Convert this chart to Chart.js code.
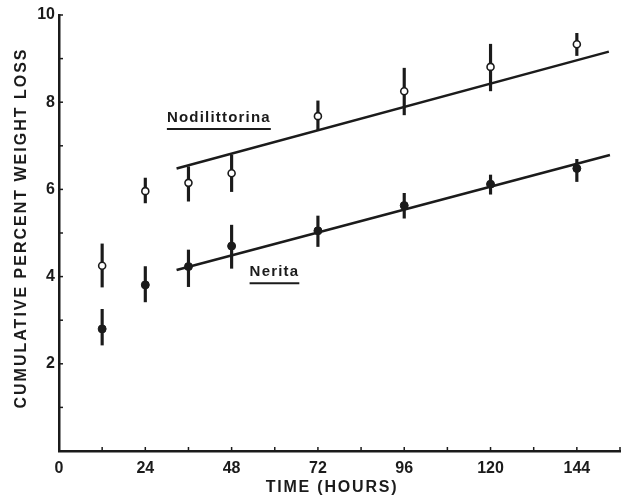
<!DOCTYPE html>
<html>
<head>
<meta charset="utf-8">
<script src="https://cdn.jsdelivr.net/npm/chart.js@4/dist/chart.umd.min.js"></script>
<style>
html,body{margin:0;padding:0;background:#fff;}
#wrap{width:627px;height:498px;position:relative;}
</style>
</head>
<body>
<div id="wrap"><canvas id="c" width="627" height="498"></canvas></div>
<script>
// ---- data ----
const hours = [12, 24, 36, 48, 72, 96, 120, 144];
const nodMean = [4.25, 5.96, 6.15, 6.37, 7.68, 8.25, 8.81, 9.33];
const nodLow  = [3.76, 5.69, 5.73, 5.95, 7.36, 7.71, 8.26, 9.07];
const nodHigh = [4.75, 6.26, 6.52, 6.79, 8.03, 8.78, 9.33, 9.58];
const nerMean = [2.80, 3.81, 4.23, 4.70, 5.05, 5.63, 6.12, 6.48];
const nerLow  = [2.43, 3.42, 3.77, 4.19, 4.69, 5.34, 5.89, 6.18];
const nerHigh = [3.25, 4.23, 4.61, 5.18, 5.39, 5.91, 6.33, 6.69];
const nodFitX = [32.7, 152.9];
const nodFitY = [6.48, 9.16];
const nerFitX = [32.7, 153.2];
const nerFitY = [4.15, 6.79];
const xTickLabels = [0, 24, 48, 72, 96, 120, 144];
const yTickLabels = [2, 4, 6, 8, 10];
const speciesNames = ['Nodilittorina', 'Nerita'];
const xTitle = 'TIME (HOURS)';
const yTitle = 'CUMULATIVE PERCENT WEIGHT LOSS';

const ink = '#1b1b1b';
const FONT = '"Liberation Sans", Arial, sans-serif';

const pts = (xs, ys) => xs.map((x, i) => ({x: x, y: ys[i]}));
const bars = (xs, lo, hi) => xs.map((x, i) => ({x: x, y: [lo[i], hi[i]]}));

const decor = {
  id: 'decor',
  afterDraw(chart) {
    const ctx = chart.ctx;
    const xs = chart.scales.x, ys = chart.scales.y;
    ctx.save();
    ctx.strokeStyle = ink;
    ctx.fillStyle = ink;
    // inward minor/major ticks
    ctx.lineWidth = 1.5;
    const x0 = xs.getPixelForValue(0), y0 = ys.getPixelForValue(0);
    for (let v = 1; v <= 10; v++) {
      const y = ys.getPixelForValue(v);
      ctx.beginPath(); ctx.moveTo(x0, y); ctx.lineTo(x0 + 4, y); ctx.stroke();
    }
    for (let h = 12; h <= 156; h += 12) {
      const x = xs.getPixelForValue(h);
      ctx.beginPath(); ctx.moveTo(x, y0); ctx.lineTo(x, y0 - 4); ctx.stroke();
    }
    // axis titles
    ctx.font = 'bold 16px ' + FONT;
    ctx.textAlign = 'center';
    ctx.textBaseline = 'middle';
    ctx.letterSpacing = '1.8px';
    ctx.fillText(xTitle, 332, 488);
    ctx.save();
    ctx.translate(22, 228);
    ctx.rotate(-Math.PI / 2);
    ctx.letterSpacing = '2px';
    ctx.fillText(yTitle, 0, 0);
    ctx.restore();
    // species labels with underline
    ctx.font = 'bold 15px ' + FONT;
    ctx.letterSpacing = '1.2px';
    ctx.textAlign = 'left';
    const anchors = [[30, 7.64], [53, 4.1]];
    speciesNames.forEach((name, i) => {
      const px = xs.getPixelForValue(anchors[i][0]);
      const py = ys.getPixelForValue(anchors[i][1]);
      ctx.fillText(name, px, py);
      const w = ctx.measureText(name).width;
      ctx.lineWidth = 2;
      ctx.beginPath(); ctx.moveTo(px, py + 11); ctx.lineTo(px + w, py + 11); ctx.stroke();
    });
    ctx.restore();
  }
};

new Chart(document.getElementById('c'), {
  type: 'line',
  data: {
    datasets: [
      {type: 'bar', data: bars(hours, nodLow, nodHigh), backgroundColor: ink, barThickness: 2.5, grouped: false, order: 3},
      {type: 'bar', data: bars(hours, nerLow, nerHigh), backgroundColor: ink, barThickness: 2.5, grouped: false, order: 3},
      {type: 'line', data: pts(nodFitX, nodFitY), borderColor: ink, borderWidth: 2.5, pointRadius: 0, order: 2},
      {type: 'line', data: pts(nerFitX, nerFitY), borderColor: ink, borderWidth: 2.5, pointRadius: 0, order: 2},
      {type: 'line', label: speciesNames[0], data: pts(hours, nodMean), showLine: false, pointRadius: 3.5,
       pointBackgroundColor: '#fff', pointBorderColor: ink, pointBorderWidth: 1.6, order: 1},
      {type: 'line', label: speciesNames[1], data: pts(hours, nerMean), showLine: false, pointRadius: 4,
       pointBackgroundColor: ink, pointBorderColor: ink, pointBorderWidth: 1, order: 1}
    ]
  },
  options: {
    responsive: false,
    animation: false,
    events: [],
    layout: {padding: {left: 0, right: 7, top: 15, bottom: 0}},
    plugins: {legend: {display: false}, tooltip: {enabled: false}},
    scales: {
      x: {
        type: 'linear', min: 0, max: 156, offset: false,
        afterFit: s => { s.height = 47; },
        grid: {display: false, drawTicks: false},
        border: {display: true, color: ink, width: 2.5},
        afterBuildTicks: s => { s.ticks = xTickLabels.map(v => ({value: v})); },
        ticks: {color: ink, font: {family: FONT, size: 16, weight: 'bold'}, padding: 8, maxRotation: 0, autoSkip: false,
                callback: v => String(v)}
      },
      y: {
        type: 'linear', min: 0, max: 10,
        afterFit: s => { s.width = 59; },
        grid: {display: false, drawTicks: false},
        border: {display: true, color: ink, width: 2.5},
        afterBuildTicks: s => { s.ticks = yTickLabels.map(v => ({value: v})); },
        ticks: {color: ink, font: {family: FONT, size: 16, weight: 'bold'}, padding: 4, autoSkip: false,
                callback: v => String(v)}
      }
    }
  },
  plugins: [decor]
});
</script>
</body>
</html>
